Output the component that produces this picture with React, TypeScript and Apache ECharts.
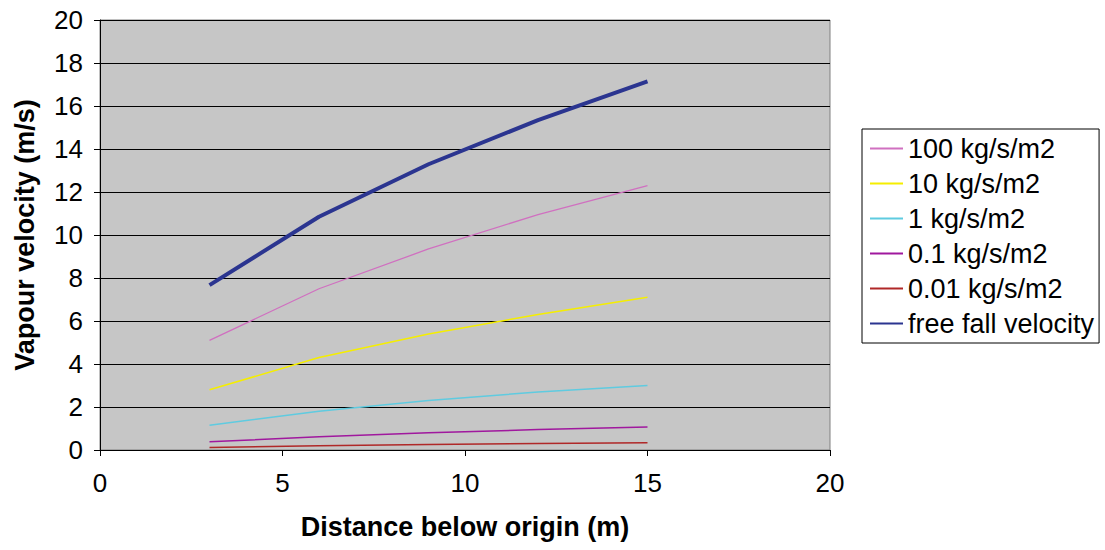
import React, { useEffect, useRef } from "react";
import * as echarts from "echarts";

const distances = [3, 6, 9, 12, 15];
const seriesNames = ["100 kg/s/m2", "10 kg/s/m2", "1 kg/s/m2", "0.1 kg/s/m2", "0.01 kg/s/m2", "free fall velocity"];
const v100 = [5.1, 7.5, 9.35, 10.95, 12.3];
const v10 = [2.8, 4.3, 5.4, 6.3, 7.1];
const v1 = [1.15, 1.8, 2.3, 2.7, 3.0];
const v01 = [0.38, 0.62, 0.8, 0.95, 1.07];
const v001 = [0.12, 0.2, 0.26, 0.3, 0.34];
const vFree = [7.67, 10.85, 13.29, 15.34, 17.15];
const seriesValues = [v100, v10, v1, v01, v001, vFree];
const colors = ["#d070c0", "#f5ee00", "#5fcbe0", "#a0189e", "#b02828", "#2b3590"];
const widths = [1.3, 1.5, 1.5, 1.5, 1.5, 4];

export default function App() {
  const ref = useRef<HTMLDivElement>(null);
  useEffect(() => {
    const chart = echarts.init(ref.current!, null, { renderer: "svg" });
    chart.setOption({
      animation: false,
      textStyle: { fontFamily: "Liberation Sans, Arial, sans-serif" },
      grid: {
        left: 100, top: 20, width: 730, height: 430, show: true,
        backgroundColor: "#c6c6c6", borderWidth: 1, borderColor: "#808080",
        containLabel: false, outerBoundsMode: "none",
      },
      xAxis: {
        type: "value", min: 0, max: 20, interval: 5,
        name: "Distance below origin (m)", nameLocation: "middle", nameGap: 63,
        nameTextStyle: { fontSize: 27, fontWeight: "bold", color: "#000" },
        axisLine: { lineStyle: { color: "#000", width: 1 } },
        axisTick: { show: true, length: 6, lineStyle: { color: "#000" } },
        axisLabel: { fontSize: 26, color: "#000", margin: 20 },
        splitLine: { show: false },
      },
      yAxis: {
        type: "value", min: 0, max: 20, interval: 2,
        name: "Vapour velocity (m/s)", nameLocation: "middle", nameGap: 62, nameRotate: 90,
        nameTextStyle: { fontSize: 27, fontWeight: "bold", color: "#000" },
        axisLine: { show: true, lineStyle: { color: "#000", width: 1 } },
        axisTick: { show: true, length: 6, lineStyle: { color: "#000" } },
        axisLabel: { fontSize: 26, color: "#000", margin: 17 },
        splitLine: { show: true, lineStyle: { color: "#000", width: 1 } },
      },
      legend: {
        orient: "vertical", left: 862, top: 129,
        borderColor: "#000", borderWidth: 1, padding: [5, 5, 5, 7],
        itemWidth: 33, itemHeight: 14, itemGap: 6, itemTextGap: 6,
        itemStyle: { color: "transparent", borderWidth: 0, opacity: 0 },
        textStyle: { fontSize: 27, color: "#000", lineHeight: 29 },
        data: seriesNames,
      },
      series: seriesNames.map((name, i) => ({
        name, type: "line", symbol: "none",
        data: distances.map((d, j) => [d, seriesValues[i][j]]),
        lineStyle: { color: colors[i], width: widths[i] },
        itemStyle: { color: colors[i] },
        z: i === 5 ? 5 : 3,
      })),
    });
    return () => chart.dispose();
  }, []);
  return <div ref={ref} style={{ width: 1105, height: 550, position: "absolute", left: 0, top: 0 }} />;
}
